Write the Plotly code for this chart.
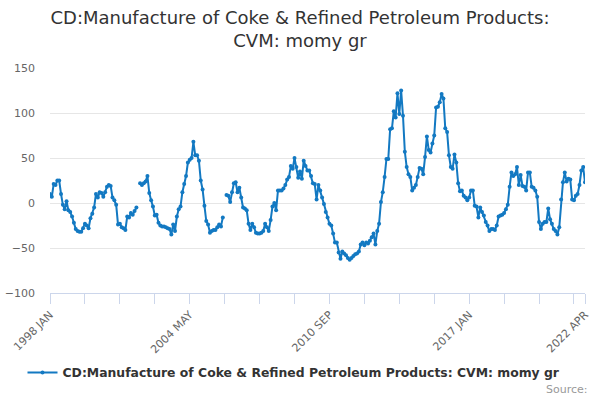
import plotly.graph_objects as go
import pandas as pd

# monthly series, 1998 JAN .. 2022 APR (None = missing month)
months = [d.strftime("%Y %b").upper() for d in pd.date_range("1998-01-01", "2022-04-01", freq="MS")]

values = [
    10, 7, 21, 20, 25, 25, 10, -2, -7, 2,
    -8, -10, -15, -22, -29, -31, -32, -32, -28, -23,
    -25, -28, -17, -12, -5, 10, 6, 12, 11, 7,
    12, 18, 20, 19, 6, 3, -2, -24, -23, -27,
    -28, -30, -15, -16, -11, -13, -9, -5, None, 22,
    20, 22, 24, 30, 11, 3, -4, -14, -13, -22,
    -25, -26, -26, -27, -28, -29, -35, -24, -31, -15,
    -7, -4, 12, 21, 30, 45, 48, 50, 68, 53,
    53, 47, 25, 15, -3, -20, -24, -33, -31, -30,
    -30, -27, -24, -26, -16, None, 9, 8, 1, 12,
    22, 23, 12, 17, 6, -5, -6, -8, -23, -30,
    -23, -27, -33, -34, -34, -33, -31, -23, -27, -31,
    -19, -4, 0, -8, 14, 14, 14, 16, 20, 26,
    29, 41, 38, 50, 40, 28, 35, 27, 47, 41,
    36, 36, 30, 22, 21, 4, 20, 14, 6, -1,
    -10, -16, -23, -25, -34, -44, -44, -55, -62, -54,
    -56, -58, -61, -63, -61, -59, -57, -56, -54, -46,
    -44, -47, -44, -45, -42, -38, -34, -46, -31, -23,
    1, 12, 29, 49, 49, 82, 83, 102, 95, 122,
    99, 125, 97, 57, 40, 32, 29, 14, 17, 20,
    29, 39, 38, 32, 51, 74, 59, 56, 66, 75,
    106, 107, 112, 121, 116, 83, 79, 53, 40, 38,
    54, 45, 22, 13, 14, 8, 6, 3, 6, 14,
    14, -3, -4, -16, -5, -10, -14, -21, -25, -31,
    -29, -29, -30, -25, -15, -14, -13, -11, -7, -2,
    18, 34, 30, 32, 40, 20, 31, 19, 18, 14,
    34, 34, 18, 17, 14, 7, -21, -29, -23, -21,
    -21, -6, -18, -23, -29, -31, -35, -27, 4, 23,
    34, 24, 27, 26, 4, 3, 8, 10, 20, 36,
    40, 23,
]

y_ticks = [-100, -50, 0, 50, 100, 150]
labelled = ["1998 JAN", "2004 MAY", "2010 SEP", "2017 JAN", "2022 APR"]

series_name = "CD:Manufacture of Coke & Refined Petroleum Products: CVM: momy gr"
blue = "#1379c2"

# tick marks every 19 months plus the last month
tick_idx = list(range(0, len(months), 19))
if tick_idx[-1] != len(months) - 1:
    tick_idx.append(len(months) - 1)
tickvals = [months[i] for i in tick_idx]
ticktext = [m if m in labelled else "" for m in tickvals]

fig = go.Figure()
fig.add_trace(go.Scatter(
    x=months, y=values, mode="lines+markers",
    name="<b>" + series_name + "</b>",
    line=dict(color=blue, width=2),
    marker=dict(color=blue, size=4),
    connectgaps=False,
))

fig.add_annotation(
    text="Source:", xref="paper", yref="paper", x=1.01, y=-0.43,
    xanchor="right", yanchor="middle", showarrow=False,
    font=dict(size=11, color="#999999"),
)

fig.update_layout(
    width=600, height=400,
    margin=dict(l=50, r=15, t=68, b=107, autoexpand=False),
    paper_bgcolor="white", plot_bgcolor="white",
    font=dict(family="DejaVu Sans", color="#666666"),
    title=dict(
        text="CD:Manufacture of Coke & Refined Petroleum Products:<br>CVM: momy gr",
        x=0.5, xanchor="center", yref="container", y=0.941, yanchor="middle",
        font=dict(size=18, color="#333333"),
    ),
    xaxis=dict(
        type="category", categoryorder="array", categoryarray=months,
        range=[0, len(months) - 1], automargin=False,
        tickmode="array", tickvals=tickvals, ticktext=ticktext,
        tickangle=-45, ticks="outside", ticklen=10, tickcolor="#ccd6eb",
        showline=True, linecolor="#ccd6eb", linewidth=1,
        showgrid=False, zeroline=False,
        tickfont=dict(size=11, color="#666666"),
    ),
    yaxis=dict(
        range=[-100, 150], tickvals=y_ticks, automargin=False,
        showgrid=True, gridcolor="#e6e6e6", zeroline=False,
        ticks="", ticklabelstandoff=14,
        tickfont=dict(size=11, color="#666666"),
    ),
    showlegend=True,
    legend=dict(
        orientation="h", xref="container", yref="container",
        x=0.49, xanchor="center", y=0.0675, yanchor="middle",
        itemwidth=30, font=dict(size=12.4, color="#333333"),
    ),
)

fig.write_html("out.html", config={"displayModeBar": False},
               post_script="document.body.style.margin='0';")
